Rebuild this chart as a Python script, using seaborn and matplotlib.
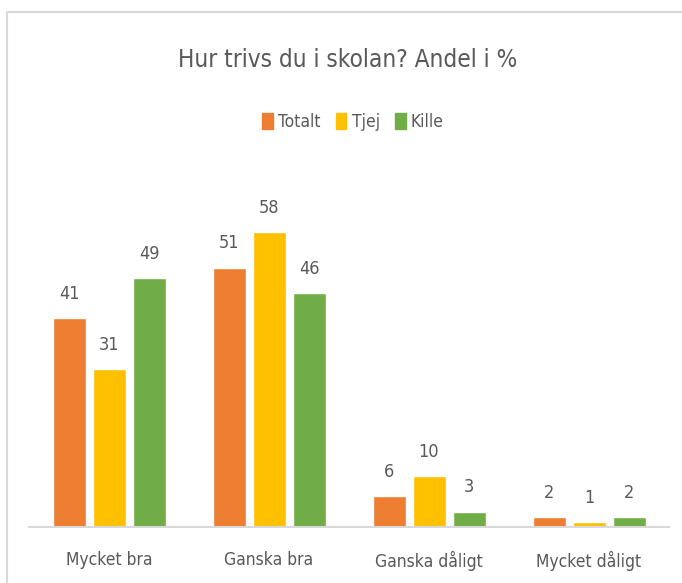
import pandas as pd
import matplotlib.pyplot as plt
import seaborn as sns
from matplotlib.patches import Rectangle

# Data
categories = ["Mycket bra", "Ganska bra", "Ganska dåligt", "Mycket dåligt"]
totalt = [41, 51, 6, 2]
tjej = [31, 58, 10, 1]
kille = [49, 46, 3, 2]
groups = ["Totalt", "Tjej", "Kille"]
colors = ["#ED7D31", "#FFC000", "#70AD47"]

data = pd.DataFrame({
    "Kategori": categories * 3,
    "Andel": totalt + tjej + kille,
    "Grupp": [g for g in groups for _ in categories],
})

sns.set_style("white")
plt.rcParams["font.family"] = ["DejaVu Sans"]
plt.rcParams["font.stretch"] = "condensed"
text_col = "#595959"

W, H = 682, 583
fig = plt.figure(figsize=(W / 100, H / 100), dpi=100)
ax = fig.add_axes([29 / W, 56 / H, 640 / W, 356 / H])

sns.barplot(data=data, x="Kategori", y="Andel", hue="Grupp",
            palette=colors, saturation=1, width=0.75, gap=0.175,
            ax=ax, legend=False)

for cont in ax.containers:
    ax.bar_label(cont, padding=11, fontsize=13, color=text_col)

ax.set_ylim(0, 70)
ax.set_xlim(-0.5, 3.5)
ax.set_xlabel("")
ax.set_ylabel("")
ax.set_yticks([])
for s in ["left", "right", "top"]:
    ax.spines[s].set_visible(False)
ax.spines["bottom"].set_color("#D9D9D9")
ax.spines["bottom"].set_linewidth(1.5)
ax.tick_params(axis="x", length=0, pad=17, labelsize=12.5, labelcolor=text_col)

# Title and legend
fig.text(348 / W, 1 - 60 / H, "Hur trivs du i skolan? Andel i %",
         ha="center", va="center", fontsize=17.5, color=text_col)
handles = [Rectangle((0, 0), 1, 1, color=c) for c in colors]
fig.legend(handles, groups, loc="center", bbox_to_anchor=(353 / W, 1 - 122 / H),
           ncol=3, frameon=False, fontsize=12.5, labelcolor=text_col,
           handlelength=0.6, handleheight=1.0, handletextpad=0.3, columnspacing=0.9)

# Chart border (cropped on the right)
fig.add_artist(Rectangle((7 / W, -0.05), 1.1, 1 - 12 / H + 0.05,
                         transform=fig.transFigure, fill=False,
                         edgecolor="#D9D9D9", linewidth=1.5))

fig.savefig("out.png", dpi=100)
